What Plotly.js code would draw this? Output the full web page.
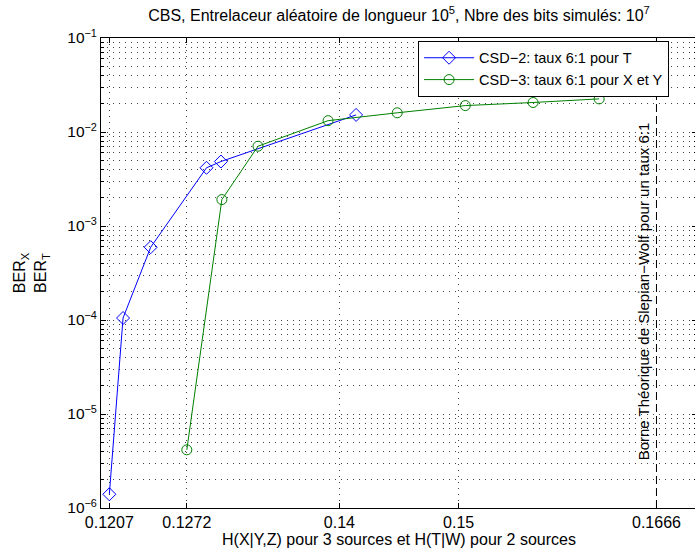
<!DOCTYPE html>
<html>
<head>
<meta charset="utf-8">
<script src="https://cdn.plot.ly/plotly-3.0.1.min.js"></script>
<style>
html, body { margin: 0; padding: 0; overflow: hidden; background: #fff; }
#chart { width: 700px; height: 555px; }
</style>
</head>
<body>
<div id="chart"></div>
<script>
// ---- data ----
const csd2X = [0.1207, 0.12185, 0.12417, 0.12885, 0.13006, 0.1414];
const csd2Y = [1.4e-6, 1.05e-4, 5.95e-4, 4.16e-3, 4.85e-3, 1.52e-2];

const csd3X = [0.1272, 0.13014, 0.13317, 0.13905, 0.14485, 0.15056, 0.15625, 0.16179];
const csd3Y = [4.16e-6, 1.91e-3, 7.06e-3, 1.32e-2, 1.60e-2, 1.91e-2, 2.06e-2, 2.25e-2];

const boundX = [0.1666, 0.1666];
const boundY = [1e-6, 1e-1];

const xTickVals = [0.1207, 0.1272, 0.14, 0.15, 0.1666];
const xTickText = ['0.1207', '0.1272', '0.14', '0.15', '0.1666'];
const yExponents = [-6, -5, -4, -3, -2, -1];

const seriesNames = ['CSD\u22122: taux 6:1 pour T', 'CSD\u22123: taux 6:1 pour X et Y'];
const titleText = 'CBS, Entrelaceur aléatoire de longueur 10<sup>5</sup>, Nbre des bits simulés: 10<sup>7</sup>';
const xTitle = 'H(X|Y,Z) pour 3 sources et H(T|W) pour 2 sources';
const yTitle = 'BER<sub>X</sub><br>BER<sub>T</sub>';
const boundLabel = 'Borne Théorique de Slepian\u2212Wolf pour un taux 6:1';

// ---- derived tick arrays ----
const yTickVals = yExponents.map(e => Math.pow(10, e));
const yTickText = yExponents.map(e => '10<sup>\u2212' + Math.abs(e) + '</sup>');
const yMinorVals = [];
yExponents.slice(0, -1).forEach(e => {
  for (let k = 2; k <= 9; k++) yMinorVals.push(k * Math.pow(10, e));
});

const FONT = 'Liberation Sans, Arial, Helvetica, sans-serif';
const GRID = { showgrid: true, gridcolor: '#444', griddash: '1px,5px', gridwidth: 1 };

const traces = [
  {
    x: csd2X, y: csd2Y, name: seriesNames[0], type: 'scatter', mode: 'lines+markers',
    line: { color: '#0000ff', width: 1 },
    marker: { symbol: 'diamond-open', size: 10, color: '#0000ff', line: { width: 1, color: '#0000ff' } }
  },
  {
    x: csd3X, y: csd3Y, name: seriesNames[1], type: 'scatter', mode: 'lines+markers',
    line: { color: '#008000', width: 1 },
    marker: { symbol: 'circle-open', size: 10, color: '#008000', line: { width: 1, color: '#008000' } }
  },
  {
    x: boundX, y: boundY, type: 'scatter', mode: 'lines', showlegend: false,
    line: { color: '#000000', width: 1, dash: '8px,4px' }, hoverinfo: 'skip'
  }
];

const layout = {
  width: 700, height: 555,
  margin: { l: 101, r: 3, t: 38, b: 47, pad: 0 },
  paper_bgcolor: '#ffffff', plot_bgcolor: '#ffffff',
  font: { family: FONT, size: 16, color: '#000' },
  showlegend: true,
  title: { text: titleText, x: 0.5, xanchor: 'center', xref: 'paper', y: 0.973, yanchor: 'middle',
           font: { family: FONT, size: 16, color: '#000' } },
  xaxis: Object.assign({
    type: 'linear', range: [0.12, 0.17], autorange: false,
    tickmode: 'array', tickvals: xTickVals, ticktext: xTickText,
    ticks: 'inside', ticklen: 5, tickcolor: '#000', tickwidth: 1,
    showline: true, linecolor: '#000', linewidth: 1, mirror: 'ticks',
    zeroline: false,
    tickfont: { family: FONT, size: 16, color: '#000' },
    title: { text: xTitle, standoff: 3, font: { family: FONT, size: 16, color: '#000' } }
  }, GRID),
  yaxis: Object.assign({
    type: 'log', range: [-6, -1], autorange: false,
    tickmode: 'array', tickvals: yTickVals, ticktext: yTickText,
    ticks: 'inside', ticklen: 5, tickcolor: '#000', tickwidth: 1,
    showline: true, linecolor: '#000', linewidth: 1, mirror: 'ticks',
    zeroline: false,
    minor: Object.assign({ tickmode: 'array', tickvals: yMinorVals, ticks: 'inside', ticklen: 3, tickcolor: '#000' }, GRID),
    tickfont: { family: FONT, size: 15.5, color: '#000' },
    title: { text: yTitle, standoff: 16, font: { family: FONT, size: 16, color: '#000' } }
  }, GRID),
  legend: {
    x: 0.532, y: 0.994, xanchor: 'left', yanchor: 'top',
    bgcolor: '#ffffff', bordercolor: '#000', borderwidth: 1,
    font: { family: FONT, size: 14.5, color: '#000' },
    tracegroupgap: 0, itemwidth: 50
  },
  annotations: [
    {
      x: boundX[0], xref: 'x', y: 0.462, yref: 'paper',
      text: boundLabel, textangle: -90, showarrow: false,
      xanchor: 'center', yanchor: 'middle', xshift: -13,
      font: { family: FONT, size: 15, color: '#000' }
    }
  ]
};

Plotly.newPlot('chart', traces, layout, { staticPlot: true, displayModeBar: false });
</script>
</body>
</html>
